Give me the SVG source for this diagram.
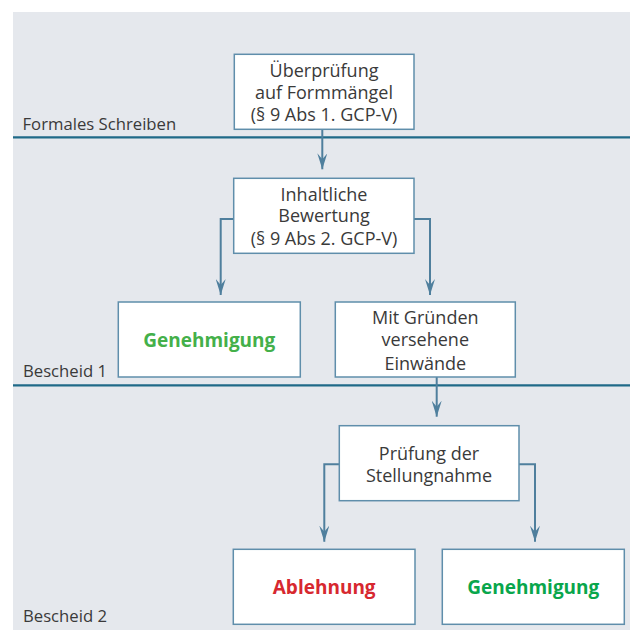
<svg xmlns="http://www.w3.org/2000/svg" width="630" height="630" viewBox="0 0 630 630">
<defs>
<style>
.bg{fill:#e5e8ed}
.sep{stroke:#1f6a88;stroke-width:2.2;fill:none}
.box{fill:#fff;stroke:#5f8eab;stroke-width:1.5}
.t{font-family:"Open Sans","Noto Sans","DejaVu Sans",sans-serif;font-size:18px;fill:#3a3a3a;text-anchor:middle}
.lbl{font-family:"Open Sans","Noto Sans","DejaVu Sans",sans-serif;font-size:16.7px;fill:#3a3a3a}
.b{font-family:"Open Sans","Noto Sans","DejaVu Sans",sans-serif;font-size:19px;font-weight:bold;text-anchor:middle}
.con{stroke:#4f7f9d;stroke-width:2;fill:none}
</style>
<marker id="ah" viewBox="0 -5 16 10" refX="16" refY="0" markerWidth="16" markerHeight="10" markerUnits="userSpaceOnUse" orient="auto">
<path d="M0,-5 L16,0 L0,5 L6,0 Z" fill="#4f7f9d"/>
</marker>
</defs>
<rect class="bg" x="13" y="12" width="617" height="618"/>
<line class="sep" x1="13" y1="137.3" x2="630" y2="137.3"/>
<line class="sep" x1="13" y1="385.3" x2="630" y2="385.3"/>
<text class="lbl" x="22.5" y="130">Formales Schreiben</text>
<text class="lbl" x="23" y="376.5">Bescheid 1</text>
<text class="lbl" x="23" y="622">Bescheid 2</text>
<g id="connectors">
<path class="con" d="M322.3,129.3 V169.3" marker-end="url(#ah)"/>
<path class="con" d="M233.7,219 H220.7 V295" marker-end="url(#ah)"/>
<path class="con" d="M414,219 H430 V295" marker-end="url(#ah)"/>
<path class="con" d="M436.7,377 V416.7" marker-end="url(#ah)"/>
<path class="con" d="M339.3,464.3 H324.3 V541.7" marker-end="url(#ah)"/>
<path class="con" d="M519,464.3 H535 V541.7" marker-end="url(#ah)"/>
</g>
<g id="n1">
<rect class="box" x="234.3" y="54.3" width="179.7" height="75"/>
<text class="t" x="324" y="76.5">Überprüfung</text>
<text class="t" x="324" y="98.5">auf Formmängel</text>
<text class="t" x="324" y="121.3">(§ 9 Abs 1. GCP-V)</text>
</g>
<g id="n2">
<rect class="box" x="233.7" y="178.3" width="180.3" height="75"/>
<text class="t" x="324" y="200.7">Inhaltliche</text>
<text class="t" x="324" y="222.3">Bewertung</text>
<text class="t" x="324" y="245">(§ 9 Abs 2. GCP-V)</text>
</g>
<g id="n3">
<rect class="box" x="118.3" y="302" width="182" height="75"/>
<text class="b" x="209.3" y="346.7" fill="#44b04a">Genehmigung</text>
</g>
<g id="n4">
<rect class="box" x="335.3" y="302" width="180" height="75"/>
<text class="t" x="425.3" y="324.3">Mit Gründen</text>
<text class="t" x="425.3" y="346.3">versehene</text>
<text class="t" x="425.3" y="369.5">Einwände</text>
</g>
<g id="n5">
<rect class="box" x="339.3" y="425.7" width="179.7" height="75"/>
<text class="t" x="429" y="460">Prüfung der</text>
<text class="t" x="429" y="482">Stellungnahme</text>
</g>
<g id="n6">
<rect class="box" x="233.3" y="549.3" width="181.7" height="75"/>
<text class="b" x="324.2" y="594.3" fill="#d7282f">Ablehnung</text>
</g>
<g id="n7">
<rect class="box" x="442.3" y="549.3" width="182" height="75"/>
<text class="b" x="533.3" y="594.3" fill="#09a64c">Genehmigung</text>
</g>
</svg>
